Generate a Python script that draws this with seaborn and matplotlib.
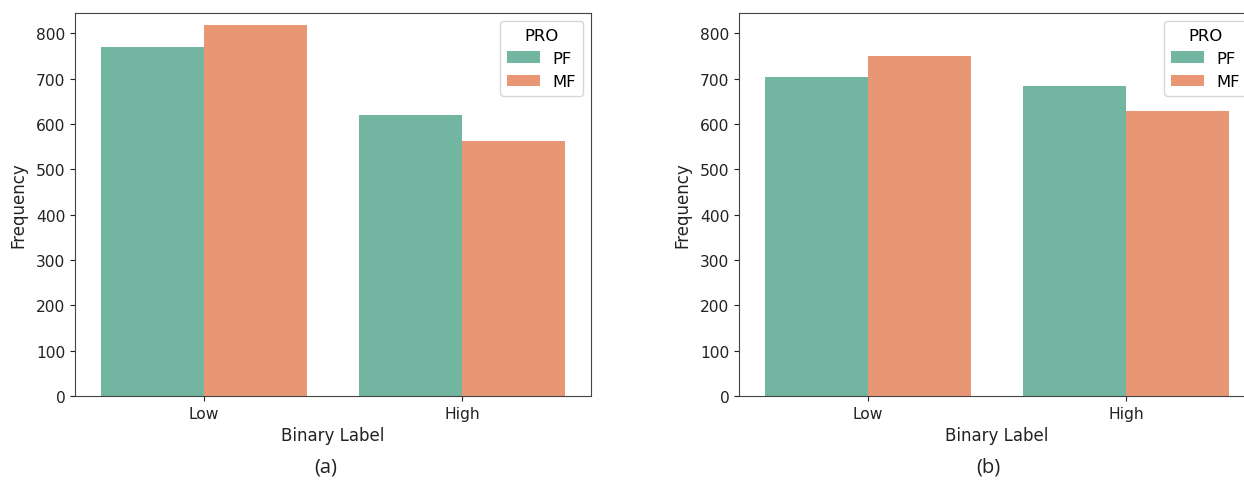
import matplotlib
matplotlib.use("Agg")
import matplotlib.pyplot as plt
import pandas as pd
import seaborn as sns

# Counts per binary label, split by PRO group
labels = ["Low", "High"]
groups = ["PF", "MF"]
panel_a_pf = [769, 620]
panel_a_mf = [819, 562]
panel_b_pf = [704, 684]
panel_b_mf = [751, 628]
captions = ["(a)", "(b)"]


def long_frame(pf, mf):
    rows = []
    for lab, v in zip(labels, pf):
        rows.append({"Binary Label": lab, "PRO": "PF", "Frequency": v})
    for lab, v in zip(labels, mf):
        rows.append({"Binary Label": lab, "PRO": "MF", "Frequency": v})
    return pd.DataFrame(rows)


W, H = 1244, 481
fig = plt.figure(figsize=(W / 100, H / 100), dpi=100)

# axes rectangles in pixels: left, top, right, bottom
boxes = [(75, 14, 591, 397), (739, 14, 1255, 397)]
data = [(panel_a_pf, panel_a_mf), (panel_b_pf, panel_b_mf)]
caption_x = [326, 988]

for (l, t, r, b), (pf, mf), cap, cx in zip(boxes, data, captions, caption_x):
    ax = fig.add_axes([l / W, 1 - b / H, (r - l) / W, (b - t) / H])
    df = long_frame(pf, mf)
    sns.barplot(data=df, x="Binary Label", y="Frequency", hue="PRO",
                order=labels, hue_order=groups, palette="Set2", ax=ax)
    ax.set_ylim(0, 845)
    ax.set_yticks(range(0, 801, 100))
    for s in ax.spines.values():
        s.set_color("#444444")
    ax.tick_params(colors="#222222", labelsize=11.2)
    ax.set_xlabel("Binary Label", fontsize=12, color="#222222")
    ax.set_ylabel("Frequency", fontsize=12, color="#222222", labelpad=6)
    ax.legend(title="PRO", loc="upper right", fontsize=11.8,
              title_fontsize=11.8)
    fig.text(cx / W, 1 - 468 / H, cap, ha="center", va="center",
             fontsize=14.5, family="Open Sans", color="#222222")

fig.savefig("out.png", dpi=100)
